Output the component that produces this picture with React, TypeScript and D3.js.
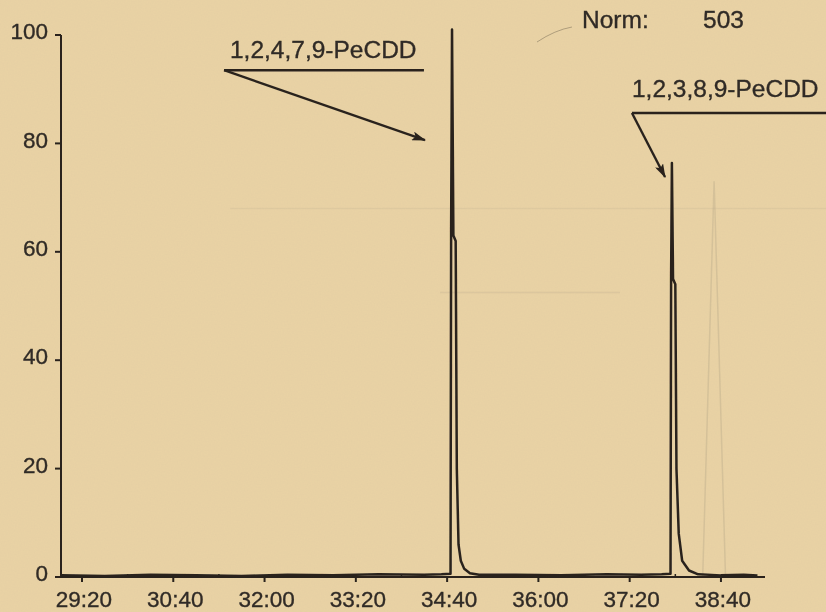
import React from 'react';
import * as d3 from 'd3';

// chromatogram, time in seconds, intensity in % of norm
const xTickLabels = ['29:20', '30:40', '32:00', '33:20', '34:40', '36:00', '37:20', '38:40'];
const minorTickLabels = ['30:00', '31:20', '32:40', '34:00', '35:20', '36:40', '38:00', '39:20'];
const yTicks = [0, 20, 40, 60, 80, 100];

const traceTime = [
  1742, 1780, 1820, 1860, 1900, 1940, 1980, 2020, 2060, 2075, 2083,
  2083.5, 2084.3, 2085.5, 2087.5, 2088.5, 2090, 2092, 2095, 2100, 2108,
  2140, 2180, 2220, 2250, 2268, 2275.8,
  2276.3, 2277, 2278, 2280, 2281, 2283, 2286, 2292, 2300,
  2320, 2340, 2352,
];
const traceValue = [
  0.3, 0.2, 0.4, 0.3, 0.2, 0.4, 0.3, 0.5, 0.4, 0.5, 0.6,
  63, 101, 63, 62, 20, 6, 3, 1.5, 0.7, 0.4,
  0.4, 0.3, 0.5, 0.4, 0.5, 0.6,
  55, 76.4, 55, 54, 20, 8, 3, 1.2, 0.5,
  0.3, 0.4, 0.3,
];

// faint peak showing through from the reverse page
const ghostTime = [2304, 2314, 2324];
const ghostValue = [0, 73, 0];

// annotation anchors (time, value)
const peakNames = ['1,2,4,7,9-PeCDD', '1,2,3,8,9-PeCDD'];
const labelTime = [1889.7, 2242];
const labelValue = [95.8, 88.6];
const lineStartTime = [1884.5, 2242];
const lineEndTime = [2059.7, 2420];
const lineValue = [93.5, 85.6];
const arrowTime = [2060.6, 2271];
const arrowValue = [80.6, 73.8];

const normLabel = 'Norm:';
const normValue = '503';

const parseTime = (s: string) => {
  const [m, sec] = s.split(':').map(Number);
  return m * 60 + sec;
};

const W = 826;
const H = 612;
const ink = '#29241f';
const textInk = '#302b26';
const font = 'Liberation Sans, Arial, Helvetica, sans-serif';

const App = () => {
  const x = d3.scaleLinear().domain([1741.6, 2358.6]).range([61, 765]);
  const y = d3.scaleLinear().domain([0, 100]).range([577, 35]);

  const line = d3.line<[number, number]>()
    .x((d) => x(d[0]))
    .y((d) => y(d[1]));
  const points: [number, number][] = traceTime.map((t, i) => [t, traceValue[i]]);
  const ghost: [number, number][] = ghostTime.map((t, i) => [t, ghostValue[i]]);

  const [x0, x1] = x.range();
  const minor = minorTickLabels.map(parseTime).filter((t) => x(t) < x1);

  return (
    <svg width={W} height={H} style={{ position: 'absolute', left: 0, top: 0 }}>
      <defs>
        <marker id="arr" viewBox="0 0 14 9" refX="13" refY="4.5" markerWidth="14" markerHeight="9"
          markerUnits="userSpaceOnUse" orient="auto">
          <path d="M0,0 L14,4.5 L0,9 L3,4.5 Z" fill={ink} />
        </marker>
        <filter id="paper">
          <feTurbulence type="fractalNoise" baseFrequency="0.7" numOctaves="2" seed="3" />
          <feColorMatrix type="matrix" values="0 0 0 0 0.55  0 0 0 0 0.45  0 0 0 0 0.3  0 0 0 0.12 0" />
        </filter>
        <filter id="soft">
          <feGaussianBlur stdDeviation="0.35" />
        </filter>
      </defs>
      <rect width={W} height={H} fill="#ead3a5" />
      <rect width={W} height={H} filter="url(#paper)" />

      {/* show-through */}
      <g stroke="#b9a98a" fill="none" strokeWidth={1.5}>
        <path d={line(ghost) || ''} strokeOpacity={0.4} />
        <line x1={230} x2={826} y1={y(68)} y2={y(68)} strokeOpacity={0.2} />
        <line x1={440} x2={620} y1={y(52.5)} y2={y(52.5)} strokeOpacity={0.25} />
      </g>

      <g filter="url(#soft)">
        {/* axes */}
        <g stroke={ink} strokeWidth={2} fill="none">
          <line x1={x0} x2={x0} y1={y(100)} y2={y(0)} />
          <line x1={x0} x2={x1} y1={y(0)} y2={y(0)} />
          {yTicks.map((v) => (
            <line key={v} x1={x0 - 6} x2={x0} y1={y(v)} y2={y(v)} />
          ))}
          {xTickLabels.map((l) => (
            <line key={l} x1={x(parseTime(l))} x2={x(parseTime(l))} y1={y(0)} y2={y(0) + 5} />
          ))}
          {minor.map((t) => (
            <line key={t} x1={x(t)} x2={x(t)} y1={y(0)} y2={y(0) - 3} strokeWidth={1.5} />
          ))}
        </g>
        <g fill={textInk} stroke={textInk} strokeWidth={0.35} fontFamily={font} fontSize={22.5}>
          {yTicks.map((v) => (
            <text key={v} x={x0 - 13} y={y(v) - 4} dy="0.36em" textAnchor="end">{v}</text>
          ))}
          {xTickLabels.map((l) => (
            <text key={l} x={x(parseTime(l)) + 2} y={y(0) + 30} textAnchor="middle">{l}</text>
          ))}
        </g>

        {/* trace */}
        <path d={line(points) || ''} fill="none" stroke={ink} strokeWidth={2.5} strokeLinejoin="round" />

        {/* annotations */}
        <g stroke={ink} strokeWidth={2.4} fill="none">
          {peakNames.map((n, i) => (
            <g key={n}>
              <line x1={x(lineStartTime[i])} x2={x(lineEndTime[i])} y1={y(lineValue[i])} y2={y(lineValue[i])} />
              <line x1={x(lineStartTime[i])} y1={y(lineValue[i])} x2={x(arrowTime[i])} y2={y(arrowValue[i])}
                markerEnd="url(#arr)" />
            </g>
          ))}
        </g>
        <g fill={textInk} stroke={textInk} strokeWidth={0.35} fontFamily={font} fontSize={24.5}>
          {peakNames.map((n, i) => (
            <text key={n} x={x(labelTime[i])} y={y(labelValue[i])}>{n}</text>
          ))}
          <text x={582} y={28}>{normLabel}</text>
          <text x={703} y={28}>{normValue}</text>
        </g>
      </g>
      <path d="M537,42 Q555,30 572,27" stroke={ink} strokeOpacity={0.3} strokeWidth={1} fill="none" />
    </svg>
  );
};

export default App;
